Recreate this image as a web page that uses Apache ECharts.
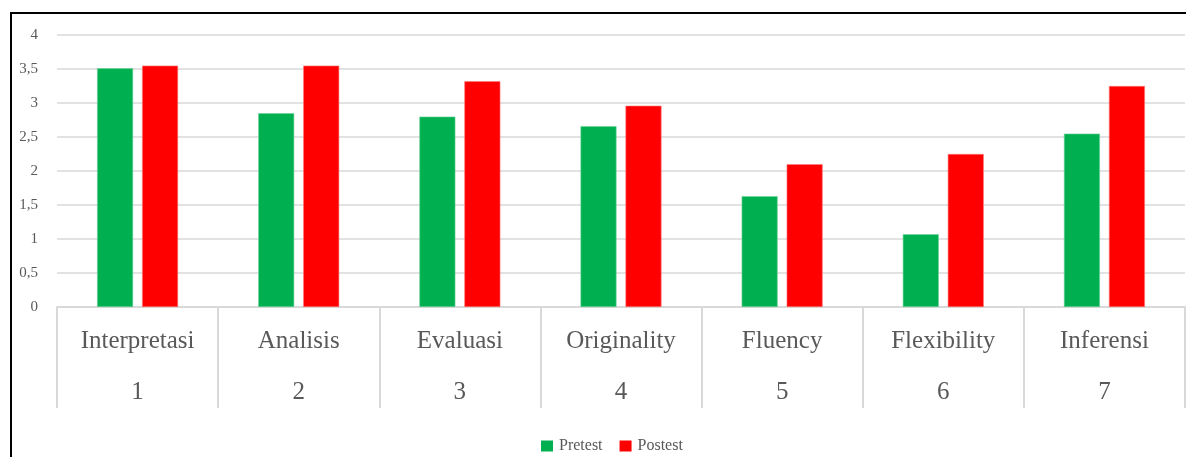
<!DOCTYPE html>
<html>
<head>
<meta charset="utf-8">
<script src="https://cdn.jsdelivr.net/npm/echarts@6/dist/echarts.min.js"></script>
<style>
html,body{margin:0;padding:0;background:#fff;}
#chart{width:1186px;height:457px;}
</style>
</head>
<body>
<div id="chart"></div>
<script>
const categories = ['Interpretasi', 'Analisis', 'Evaluasi', 'Originality', 'Fluency', 'Flexibility', 'Inferensi'];
const categoryNumbers = ['1', '2', '3', '4', '5', '6', '7'];
const pretest = [3.51, 2.85, 2.80, 2.66, 1.63, 1.07, 2.55];
const postest = [3.55, 3.55, 3.32, 2.96, 2.10, 2.25, 3.25];
const seriesNames = ['Pretest', 'Postest'];

const FONT = '"Liberation Serif", "DejaVu Serif", serif';
const TXT = '#595959';
const GRID = '#d9d9d9';

const chart = echarts.init(document.getElementById('chart'), null, {renderer: 'canvas'});
chart.setOption({
  animation: false,
  backgroundColor: '#fff',
  textStyle: {fontFamily: FONT},
  graphic: [{
    type: 'polyline',
    shape: {points: [[11, 470], [11, 13], [1200, 13]]},
    style: {stroke: '#000', lineWidth: 2, fill: null},
    silent: true
  }],
  grid: {left: 57, right: 1, top: 35, bottom: 150, containLabel: false},
  legend: {
    data: seriesNames,
    left: 541,
    top: 438,
    padding: 0,
    itemWidth: 12,
    itemHeight: 11,
    itemGap: 17,
    icon: 'rect',
    itemStyle: {borderWidth: 0},
    textStyle: {fontFamily: FONT, fontSize: 16, color: TXT, padding: [0, 0, 0, 1]}
  },
  xAxis: {
    type: 'category',
    data: categories,
    axisLine: {show: true, lineStyle: {color: GRID, width: 2}},
    axisTick: {show: true, length: 101, lineStyle: {color: GRID, width: 2}},
    axisLabel: {
      margin: 9,
      interval: 0,
      color: TXT,
      formatter: function (v, i) {
        return '{a|' + v + '}\n{b|' + categoryNumbers[i] + '}';
      },
      rich: {
        a: {fontFamily: FONT, fontSize: 25, color: TXT, lineHeight: 50},
        b: {fontFamily: FONT, fontSize: 25, color: TXT, lineHeight: 52}
      }
    },
    splitLine: {show: false}
  },
  yAxis: {
    type: 'value',
    min: 0,
    max: 4,
    interval: 0.5,
    axisLine: {show: false},
    axisTick: {show: false},
    axisLabel: {
      margin: 19,
      color: TXT,
      fontFamily: FONT,
      fontSize: 15,
      formatter: function (v) { return String(v).replace('.', ','); }
    },
    splitLine: {lineStyle: {color: GRID, width: 1.5}}
  },
  series: [
    {
      name: seriesNames[0],
      type: 'bar',
      data: pretest,
      barWidth: 36,
      barGap: '25%',
      itemStyle: {color: '#00B050', borderColor: '#6fd39a', borderWidth: 0.6}
    },
    {
      name: seriesNames[1],
      type: 'bar',
      data: postest,
      barWidth: 36,
      barGap: '25%',
      itemStyle: {color: '#FF0000', borderColor: '#ff7a7a', borderWidth: 0.6}
    }
  ]
});
</script>
</body>
</html>
